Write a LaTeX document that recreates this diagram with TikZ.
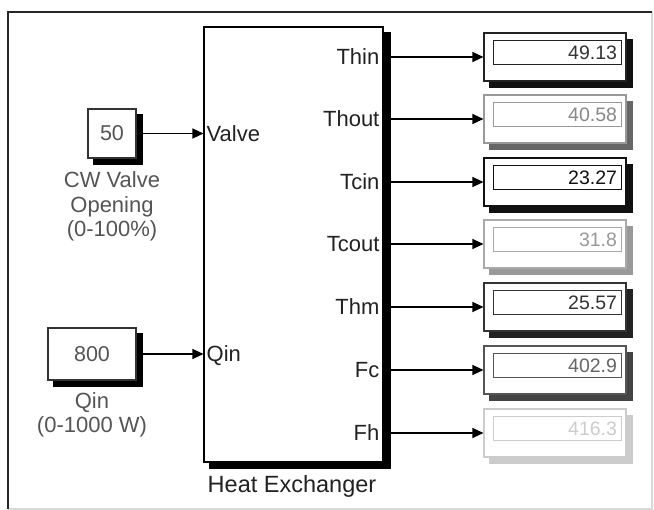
\documentclass[tikz,border=0pt]{standalone}
\usepackage{fontspec}
\setmainfont{Liberation Sans}
\usetikzlibrary{arrows.meta,calc}
\definecolor{txtdark}{HTML}{222222}
\definecolor{txtgray}{HTML}{555555}
\begin{document}
\begin{tikzpicture}[x=1pt,y=-1pt,
  lbl/.style={font=\fontsize{22}{24}\selectfont, text=txtdark, inner sep=0pt},
  captxt/.style={font=\fontsize{22}{24.5}\selectfont, text=txtgray, align=center, inner sep=0pt},
  blk/.style={draw=black, line width=1.1pt, fill=white, inner sep=0pt},
  conn/.style={draw=black, line width=1.2pt, -{Triangle[length=11pt,width=10pt]}},
  disp/.style={draw=#1, line width=1.1pt, fill=white, minimum width=142pt, minimum height=48pt, inner sep=0pt},
  val/.style={draw=#1, line width=1pt, text width=120pt, align=right, inner xsep=4pt, minimum height=24pt,
              font=\fontsize{19.5}{21}\selectfont, text=#1}
]
\useasboundingbox (0,0) rectangle (654,510);
\fill[white] (0,0) rectangle (654,510);
% outer frame
\draw[line width=1.2pt, gray!30] (652,12) -- (652,509) -- (8,509);
\draw[line width=2pt, black!85] (8,509) -- (8,12) -- (652,12);

% heat exchanger
\node[blk, minimum width=179pt, minimum height=435pt] (he) at (293.5,244.5) {};
\fill[black] ($(he.north east)+(0,6)$) rectangle ($(he.south east)+(7,6)$);
\fill[black] ($(he.south west)+(6,0)$) rectangle ($(he.south east)+(7,6)$);
\node[lbl, font=\fontsize{23.5}{26}\selectfont, anchor=base] (helbl) at (292,493) {Heat Exchanger};

% inputs
\node[blk, draw=black!80, minimum width=48pt, minimum height=49pt, font=\fontsize{21.5}{23}\selectfont, text=txtgray] (c1) at (112,133.5) {50};
\fill[black] ($(c1.north east)+(0,6)$) rectangle ($(c1.south east)+(6,6)$);
\fill[black] ($(c1.south west)+(6,0)$) rectangle ($(c1.south east)+(6,6)$);
\node[captxt, anchor=base] (c1cap) at (112,237) {CW Valve\\Opening\\(0-100\%)};

\node[blk, draw=black!80, minimum width=88pt, minimum height=52pt, font=\fontsize{21.5}{23}\selectfont, text=txtgray] (c2) at (92,354) {800};
\fill[black] ($(c2.north east)+(0,6)$) rectangle ($(c2.south east)+(6,6)$);
\fill[black] ($(c2.south west)+(6,0)$) rectangle ($(c2.south east)+(6,6)$);
\node[captxt, anchor=base] (c2cap) at (92,433) {Qin\\(0-1000 W)};

\draw[conn] ($(c1.east)+(6,0)$) -- (he.west |- c1.east);
\draw[conn] ($(c2.east)+(6,0)$) -- (he.west |- c2.east);
\node[lbl, anchor=base west] (pvalve) at ($(he.west |- c1.east)+(3,8)$) {Valve};
\node[lbl, anchor=base west] (pqin) at ($(he.west |- c2.east)+(3,8)$) {Qin};

% displays
\foreach \i/\y/\v/\bc/\sc/\tc/\pn in {
  1/57/49.13/222222/111111/333333/Thin,
  2/119/40.58/999999/666666/888888/Thout,
  3/182/23.27/111111/111111/111111/Tcin,
  4/244/31.8/AAAAAA/999999/999999/Tcout,
  5/307/25.57/333333/222222/333333/Thm,
  6/370/402.9/555555/444444/666666/Fc,
  7/433/416.3/CCCCCC/CCCCCC/CCCCCC/Fh} {
  \definecolor{bc\i}{HTML}{\bc}
  \definecolor{sc\i}{HTML}{\sc}
  \definecolor{tc\i}{HTML}{\tc}
  \node[disp=bc\i] (d\i) at (555,\y) {};
  \fill[sc\i] ($(d\i.north east)+(0,7)$) rectangle ($(d\i.south east)+(6,6)$);
  \fill[sc\i] ($(d\i.south west)+(6,0)$) rectangle ($(d\i.south east)+(6,6)$);
  \node[val=bc\i, text=tc\i] (v\i) at (557,\y-4) {\v};
  \draw[conn] ($(he.east |- d\i.west)+(7,0)$) -- (d\i.west);
  \node[lbl, anchor=base east] (p\i) at ($(he.east |- d\i.west)+(-4,8)$) {\pn};
}
\end{tikzpicture}
\end{document}
